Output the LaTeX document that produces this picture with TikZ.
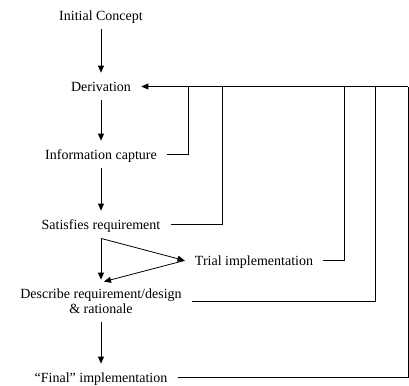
\documentclass[tikz,border=0pt]{standalone}
\usepackage{fontspec}
\setmainfont{Liberation Serif}
\usetikzlibrary{arrows.meta}

\begin{document}
\begin{tikzpicture}[x=1bp, y=-1bp, line width=0.8bp,
	step box/.style={inner xsep=10bp, inner ysep=7bp, text height=11bp, text depth=2bp,
		font=\fontsize{14bp}{15bp}\selectfont},
	flow/.style={-{Triangle[length=7bp,width=6bp]}}]
	\useasboundingbox (0,0) rectangle (409,386);

	\node[step box, anchor=base] (init) at (101,20) {Initial Concept};
	\node[step box, anchor=base] (deriv) at (101,91) {Derivation};
	\node[step box, anchor=base] (info) at (101,159) {Information capture};
	\node[step box, anchor=base] (sat) at (101,229) {Satisfies requirement};
	\node[step box, anchor=base] (trial) at (254,265) {Trial implementation};
	\node[step box, text height=26bp, align=center] (desc) at (101,301) {Describe requirement/design\\\& rationale};
	\node[step box, anchor=base] (final) at (101,382) {“Final” implementation};

	% return lines
	\coordinate (r1) at (188,0);
	\coordinate (r2) at (222,0);
	\coordinate (r3) at (344,0);
	\coordinate (r4) at (375,0);
	\coordinate (r5) at (408,0);

	\draw[flow] (init) -- (deriv);
	\draw[flow] (deriv) -- (info);
	\draw[flow] (info) -- (sat);
	\draw[flow] (sat) -- (desc);
	\draw[flow] (sat.south) -- (trial.west);
	\draw[flow] (trial.west) -- ([xshift=3bp,yshift=-2bp]desc.north);
	\draw[flow] (desc) -- (final);

	\draw[flow] (r5 |- deriv.east) -- (deriv.east);
	\draw (info.east) -| (r1 |- deriv.east);
	\draw (sat.east) -| (r2 |- deriv.east);
	\draw (trial.east) -| (r3 |- deriv.east);
	\draw (desc.east) -| (r4 |- deriv.east);
	\draw (final.east) -| (r5 |- deriv.east);
\end{tikzpicture}
\end{document}
